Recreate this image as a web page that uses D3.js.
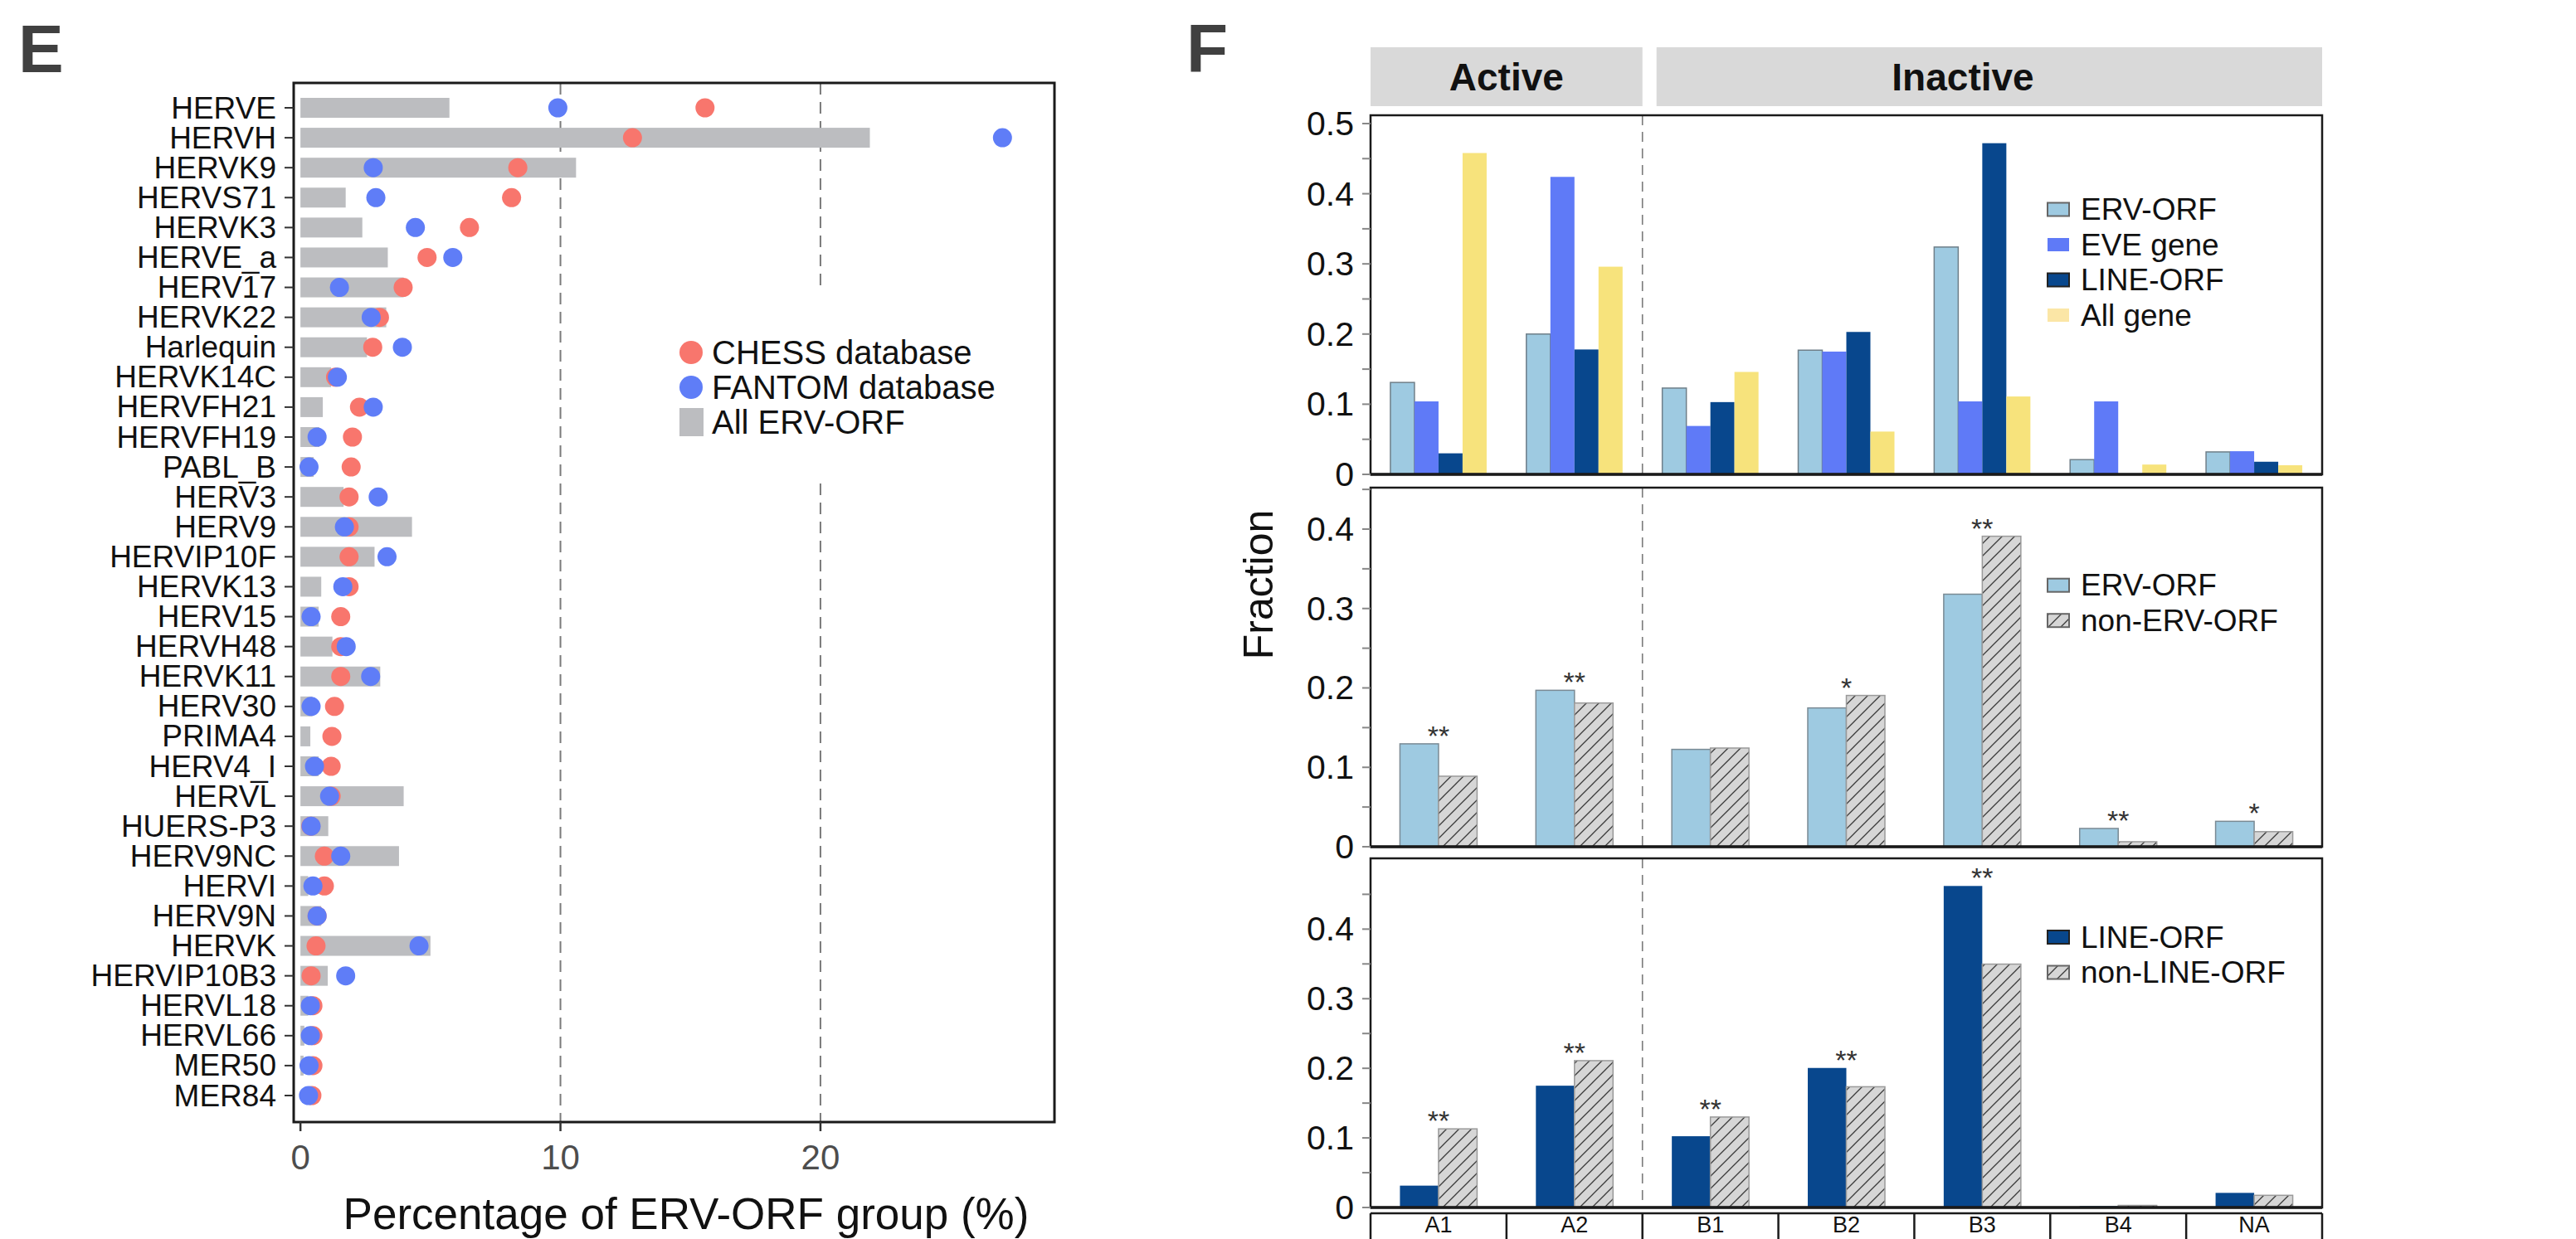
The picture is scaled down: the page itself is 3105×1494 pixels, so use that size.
<!DOCTYPE html>
<html><head><meta charset="utf-8">
<script src="https://cdn.jsdelivr.net/npm/d3@7"></script>
<style>
body{margin:0;background:#fff}
svg{display:block}
text{font-family:"Liberation Sans",Arial,Helvetica,sans-serif}
</style>
</head><body>
<svg id="c" width="3105" height="1494"></svg>
<script>
// ---------------- Panel E data ----------------
const families = ["HERVE","HERVH","HERVK9","HERVS71","HERVK3","HERVE_a","HERV17","HERVK22","Harlequin","HERVK14C",
  "HERVFH21","HERVFH19","PABL_B","HERV3","HERV9","HERVIP10F","HERVK13","HERV15","HERVH48","HERVK11",
  "HERV30","PRIMA4","HERV4_I","HERVL","HUERS-P3","HERV9NC","HERVI","HERV9N","HERVK","HERVIP10B3",
  "HERVL18","HERVL66","MER50","MER84"];
const allErvOrfPct = [5.73,21.9,10.6,1.74,2.38,3.36,3.97,3.3,2.56,1.18,
  0.86,0.73,0.51,1.66,4.29,2.85,0.8,0.7,1.23,3.07,
  0.46,0.38,0.7,3.97,1.07,3.79,0.3,0.8,5.0,1.05,
  0.3,0.15,0.12,0.0];
const chessPct = [15.56,12.77,8.36,8.12,6.5,4.87,3.95,3.04,2.78,1.35,
  2.27,2.0,1.95,1.87,1.87,1.87,1.87,1.55,1.55,1.55,
  1.31,1.21,1.18,1.18,0.4,0.92,0.92,0.64,0.6,0.41,
  0.48,0.48,0.48,0.44];
const fantomPct = [9.9,27.0,2.8,2.9,4.42,5.86,1.5,2.72,3.92,1.42,
  2.8,0.64,0.33,2.99,1.69,3.33,1.63,0.41,1.76,2.7,
  0.41,null,0.54,1.12,0.41,1.55,0.48,0.64,4.56,1.74,
  0.38,0.38,0.33,0.31];
const pctTicks = [0,10,20];
const pctGuides = [10,20];
const legendE = ["CHESS database","FANTOM database","All ERV-ORF"];

// ---------------- Panel F data ----------------
const groups = ["A1","A2","B1","B2","B3","B4","NA"];
const stripLabels = ["Active","Inactive"];
const topSeries = ["ERV-ORF","EVE gene","LINE-ORF","All gene"];
const ervOrfFrac = [0.131,0.200,0.123,0.177,0.324,0.021,0.032];
const eveGeneFrac = [0.104,0.424,0.069,0.175,0.104,0.104,0.033];
const lineOrfFrac = [0.030,0.178,0.103,0.203,0.472,0.0,0.018];
const allGeneFrac = [0.458,0.296,0.146,0.061,0.111,0.014,0.013];

const midSeries = ["ERV-ORF","non-ERV-ORF"];
const ervOrfMid = [0.1296,0.197,0.1226,0.1748,0.318,0.023,0.032];
const nonErvOrfMid = [0.0888,0.181,0.1243,0.1905,0.391,0.0063,0.019];
const ervSig = ["**","**","","*","**","**","*"];

const botSeries = ["LINE-ORF","non-LINE-ORF"];
const lineOrfBot = [0.0314,0.175,0.1024,0.2005,0.462,0.002,0.021];
const nonLineOrfBot = [0.113,0.211,0.13,0.1735,0.3497,0.003,0.0175];
const lineSig = ["**","**","**","**","**","",""];

// ---------------- drawing ----------------
const svg = d3.select("#c");
const defs = svg.append("defs");
const pat = defs.append("pattern").attr("id","hatch").attr("patternUnits","userSpaceOnUse")
  .attr("width",15).attr("height",15);
pat.append("rect").attr("width",15).attr("height",15).attr("fill","#d6d6d6");
pat.append("path").attr("d","M0,15 L15,0 M-4,4 L4,-4 M11,19 L19,11")
  .attr("stroke","#3a3a3a").attr("stroke-width",1.3);

// ===== Panel E =====
const E = {left:354, right:1271, top:100, bottom:1353};
const xE = d3.scaleLinear().domain([-0.26, 29.0]).range([E.left, E.right]);
const yE = d3.scalePoint().domain(families).range([130, 1321]);
const gE = svg.append("g");

gE.append("text").attr("x",22).attr("y",87).attr("font-size",82).attr("font-weight","bold")
  .attr("fill","#404040").text("E");

gE.selectAll("line.guide").data(pctGuides).join("line")
  .attr("x1",d=>xE(d)).attr("x2",d=>xE(d)).attr("y1",E.top).attr("y2",E.bottom)
  .attr("stroke","#7a7a7a").attr("stroke-width",2).attr("stroke-dasharray","14,9");

const barH = 24;
gE.selectAll("rect.bar").data(families).join("rect")
  .attr("x",xE(0)).attr("y",d=>yE(d)-barH/2)
  .attr("width",(d,i)=>Math.max(0,xE(allErvOrfPct[i])-xE(0))).attr("height",barH)
  .attr("fill","#bcbdc0");

gE.selectAll("circle.chess").data(families).join("circle")
  .attr("cx",(d,i)=>xE(chessPct[i])).attr("cy",d=>yE(d)).attr("r",11.5).attr("fill","#f8766d");
gE.selectAll("circle.fantom").data(families.filter((d,i)=>fantomPct[i]!==null)).join("circle")
  .attr("cx",d=>xE(fantomPct[families.indexOf(d)])).attr("cy",d=>yE(d)).attr("r",11.5).attr("fill","#5f7df7");

// legend
gE.append("rect").attr("x",812).attr("y",352).attr("width",450).attr("height",226).attr("fill","#fff");
const legY = [425,467,509];
gE.append("circle").attr("cx",833).attr("cy",legY[0]).attr("r",14).attr("fill","#f8766d");
gE.append("circle").attr("cx",833).attr("cy",legY[1]).attr("r",14).attr("fill","#5f7df7");
gE.append("rect").attr("x",819).attr("y",legY[2]-17).attr("width",29).attr("height",34).attr("fill","#bcbdc0");
gE.selectAll("text.leg").data(legendE).join("text")
  .attr("x",858).attr("y",(d,i)=>legY[i]).attr("dominant-baseline","central")
  .attr("font-size",40).attr("fill","#111").text(d=>d);

gE.append("rect").attr("x",E.left).attr("y",E.top).attr("width",E.right-E.left).attr("height",E.bottom-E.top)
  .attr("fill","none").attr("stroke","#1a1a1a").attr("stroke-width",3);

// y axis
gE.selectAll("line.ytick").data(families).join("line")
  .attr("x1",343).attr("x2",E.left).attr("y1",d=>yE(d)).attr("y2",d=>yE(d))
  .attr("stroke","#333").attr("stroke-width",2);
gE.selectAll("text.ylab").data(families).join("text")
  .attr("x",333).attr("y",d=>yE(d)).attr("text-anchor","end").attr("dominant-baseline","central")
  .attr("font-size",37).attr("fill","#111").text(d=>d);
// x axis
gE.selectAll("line.xtick").data(pctTicks).join("line")
  .attr("x1",d=>xE(d)).attr("x2",d=>xE(d)).attr("y1",E.bottom).attr("y2",E.bottom+11)
  .attr("stroke","#333").attr("stroke-width",2.5);
gE.selectAll("text.xlab").data(pctTicks).join("text")
  .attr("x",d=>xE(d)).attr("y",1410).attr("text-anchor","middle")
  .attr("font-size",42).attr("fill","#4d4d4d").text(d=>d);
gE.append("text").attr("x",827).attr("y",1482).attr("text-anchor","middle")
  .attr("font-size",53).attr("fill","#111").text("Percentage of ERV-ORF group (%)");

// ===== Panel F =====
const F = {left:1652, right:2799};
const xF = d3.scaleBand().domain(groups).range([F.left, F.right]).paddingInner(0).paddingOuter(0);
const bw = xF.bandwidth();
const gF = svg.append("g");
gF.append("text").attr("x",1430).attr("y",87).attr("font-size",82).attr("font-weight","bold")
  .attr("fill","#404040").text("F");

// strips
const stripX = [[F.left, xF("B1")],[xF("B1")+17, F.right]];
const stripTextX = [null, 2366];
stripLabels.forEach((s,i)=>{
  gF.append("rect").attr("x",stripX[i][0]).attr("y",57).attr("width",stripX[i][1]-stripX[i][0]).attr("height",71)
    .attr("fill","#d9d9d9");
  gF.append("text").attr("x", stripTextX[i] ?? (stripX[i][0]+stripX[i][1])/2).attr("y",93)
    .attr("text-anchor","middle").attr("dominant-baseline","central")
    .attr("font-size",46).attr("font-weight","bold").attr("fill","#111").text(s);
});

const fmt = d => d===0 ? "0" : d3.format(".1f")(d);

function panel(cfg){
  const y = d3.scaleLinear().domain([0,cfg.max]).range([cfg.bottom, cfg.top]);
  const g = gF.append("g");
  const inner = d3.scaleBand().domain(cfg.series).range([0,bw]).paddingInner(0).paddingOuter(cfg.pad);
  // separator
  g.append("line").attr("x1",xF("B1")).attr("x2",xF("B1")).attr("y1",cfg.top).attr("y2",cfg.bottom)
    .attr("stroke","#7a7a7a").attr("stroke-width",1.6).attr("stroke-dasharray","12,8");
  cfg.series.forEach((s,si)=>{
    g.selectAll(null).data(groups).join("rect")
      .attr("x",d=>xF(d)+inner(s)).attr("width",inner.bandwidth())
      .attr("y",(d,i)=>y(cfg.values[si][i])).attr("height",(d,i)=>y(0)-y(cfg.values[si][i]))
      .attr("fill",cfg.fills[si]).attr("stroke",cfg.strokes[si]).attr("stroke-width",cfg.strokes[si]==="none"?0:1.5);
  });
  if(cfg.sig){
    g.selectAll(null).data(groups).join("text")
      .attr("x",d=>xF(d)+bw/2)
      .attr("y",(d,i)=>y(Math.max(...cfg.values.map(v=>v[i])))+2)
      .attr("text-anchor","middle").attr("font-size",34).attr("fill","#333")
      .text((d,i)=>cfg.sig[i]);
  }
  // box
  g.append("rect").attr("x",F.left).attr("y",cfg.top).attr("width",F.right-F.left).attr("height",cfg.bottom-cfg.top)
    .attr("fill","none").attr("stroke","#1a1a1a").attr("stroke-width",2.5);
  g.append("line").attr("x1",F.left).attr("x2",F.right).attr("y1",cfg.bottom).attr("y2",cfg.bottom)
    .attr("stroke","#1a1a1a").attr("stroke-width",3.5);
  // ticks
  const ticks = d3.range(0, cfg.tickMax+1e-9, 0.05).map(v=>Math.round(v*100)/100);
  g.selectAll(null).data(ticks).join("line")
    .attr("x1",F.left-10).attr("x2",F.left).attr("y1",d=>y(d)).attr("y2",d=>y(d))
    .attr("stroke","#888").attr("stroke-width",2);
  g.selectAll(null).data(ticks.filter(t=>Math.round(t*100)%10===0)).join("text")
    .attr("x",1632).attr("y",d=>y(d)).attr("text-anchor","end").attr("dominant-baseline","central")
    .attr("font-size",41).attr("fill","#111").text(fmt);
  // legend
  cfg.series.forEach((s,si)=>{
    const ly = cfg.legY + si*42.5;
    g.append("rect").attr("x",2468).attr("y",ly-8).attr("width",26).attr("height",16)
      .attr("fill",cfg.legFills[si]).attr("stroke",cfg.legStrokes[si]).attr("stroke-width",cfg.legStrokes[si]==="none"?0:2);
    g.append("text").attr("x",2508).attr("y",ly).attr("dominant-baseline","central")
      .attr("font-size",37).attr("fill","#111").text(s);
  });
}

panel({top:139, bottom:572, max:0.5118, tickMax:0.5, series:topSeries, pad:0.825,
  values:[ervOrfFrac,eveGeneFrac,lineOrfFrac,allGeneFrac],
  fills:["#9ecae1","#5f7af7","#08478d","#f7e37c"],
  strokes:["#6f7f89","none","none","none"],
  legFills:["#9ecae1","#5f7af7","#08478d","#fbe6a6"],
  legStrokes:["#666","none","#222","none"],
  legY:252.5});
panel({top:588, bottom:1021, max:0.4522, tickMax:0.45, series:midSeries, pad:0.762,
  values:[ervOrfMid,nonErvOrfMid], sig:ervSig,
  fills:["#9ecae1","url(#hatch)"], strokes:["#7a8a94","#9a9a9a"],
  legFills:["#9ecae1","url(#hatch)"], legStrokes:["#666","#666"],
  legY:705.7});
panel({top:1035, bottom:1456, max:0.5017, tickMax:0.45, series:botSeries, pad:0.762,
  values:[lineOrfBot,nonLineOrfBot], sig:lineSig,
  fills:["#08478d","url(#hatch)"], strokes:["none","#9a9a9a"],
  legFills:["#08478d","url(#hatch)"], legStrokes:["#222","#666"],
  legY:1130});

// Fraction label
gF.append("text").attr("transform","translate(1517,705) rotate(-90)")
  .attr("text-anchor","middle").attr("dominant-baseline","central")
  .attr("font-size",50).attr("fill","#111").text("Fraction");

// category axis
gF.append("line").attr("x1",F.left).attr("x2",F.right).attr("y1",1463).attr("y2",1463)
  .attr("stroke","#1a1a1a").attr("stroke-width",2.5);
gF.selectAll(null).data(groups.concat(["_end"])).join("line")
  .attr("x1",d=>d==="_end"?F.right:xF(d)).attr("x2",d=>d==="_end"?F.right:xF(d))
  .attr("y1",1463).attr("y2",1494).attr("stroke","#1a1a1a").attr("stroke-width",2.5);
gF.selectAll(null).data(groups).join("text")
  .attr("x",d=>xF(d)+bw/2).attr("y",1486).attr("text-anchor","middle")
  .attr("font-size",27).attr("fill","#111").text(d=>d);
</script>
</body></html>
